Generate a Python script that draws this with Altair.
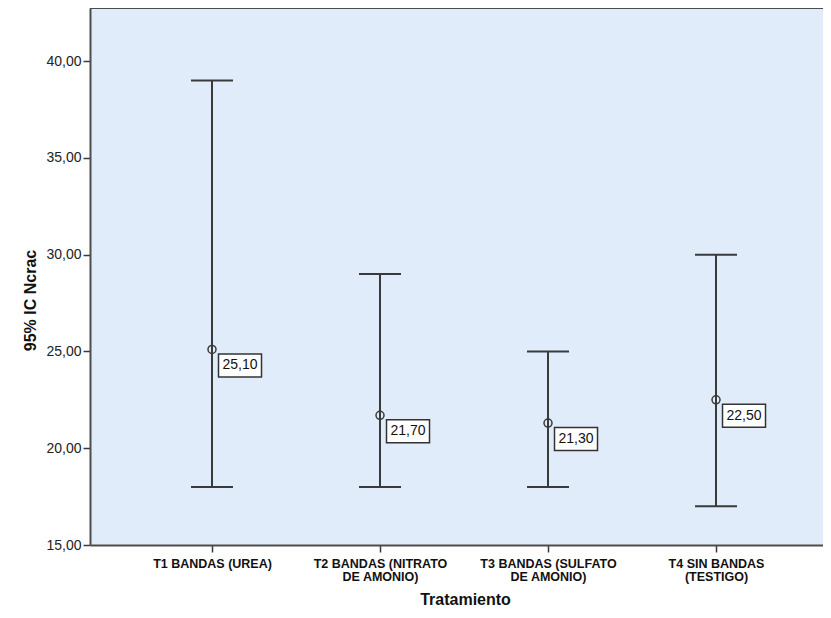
import altair as alt
import pandas as pd

categories = ["T1 BANDAS (UREA)", "T2 BANDAS (NITRATO\nDE AMONIO)",
              "T3 BANDAS (SULFATO\nDE AMONIO)", "T4 SIN BANDAS\n(TESTIGO)"]
means = [25.10, 21.70, 21.30, 22.50]
lower = [18.0, 18.0, 18.0, 17.0]
upper = [39.0, 29.0, 25.0, 30.0]
y_ticks = [15, 20, 25, 30, 35, 40]

df = pd.DataFrame({"cat": categories, "mean": means, "lo": lower, "hi": upper})

LINE = "#3a3a3a"
BOLDF = "Liberation Sans, Arial, sans-serif"
SANS = "Liberation Sans, Arial, sans-serif"
W, H = 733, 537

x_enc = alt.X(
    "cat:N", sort=categories,
    scale=alt.Scale(type="point", padding=0.6815, align=0.5328),
    axis=alt.Axis(
        title="Tratamiento", labelExpr="split(datum.label, '\\n')",
        labelAngle=0, labelFont=BOLDF, labelFontWeight="bold", labelFontSize=12.5,
        labelColor="#111", labelLineHeight=13, labelPadding=5, labelBaseline="top",
        tickSize=7, tickColor=LINE, tickWidth=1.5,
        domainColor="#4d4d4d", domainWidth=2,
        titleFont=BOLDF, titleFontSize=16, titleFontWeight="bold", titleColor="#111",
        titleX=375, titleY=54, titleBaseline="middle", titleAlign="center",
        grid=False,
    ),
)
y_scale = alt.Scale(domain=[15, 42.74], nice=False, zero=False)
y_axis = alt.Axis(
    title="95% IC Ncrac", values=y_ticks,
    labelExpr="replace(format(datum.value, '.2f'), '.', ',')",
    labelFont=SANS, labelFontSize=14, labelColor="#222", labelPadding=2,
    tickSize=7, tickColor=LINE, tickWidth=1.5,
    domainColor="#4d4d4d", domainWidth=2,
    titleFont=BOLDF, titleFontSize=16, titleFontWeight="bold", titleColor="#111",
    titleX=-60, titleY=292, titleBaseline="middle", titleAlign="center", titleAngle=-90,
    grid=False,
)

base = alt.Chart(df)

rule = base.mark_rule(color=LINE, strokeWidth=2).encode(
    x=x_enc, y=alt.Y("lo:Q", scale=y_scale, axis=y_axis), y2="hi:Q")
cap_hi = base.mark_tick(color=LINE, thickness=2, size=42, opacity=1, orient="horizontal").encode(
    x=alt.X("cat:N", sort=categories), y=alt.Y("hi:Q"))
cap_lo = base.mark_tick(color=LINE, thickness=2, size=42, opacity=1, orient="horizontal").encode(
    x=alt.X("cat:N", sort=categories), y=alt.Y("lo:Q"))
pt = base.mark_point(shape="circle", filled=False, size=64, strokeWidth=1.5,
                     color=LINE, opacity=1).encode(
    x=alt.X("cat:N", sort=categories), y=alt.Y("mean:Q"))
box = base.mark_rect(width=43, height=23, xOffset=28, yOffset=16, fill="white",
                     stroke="#333", strokeWidth=1.5).encode(
    x=alt.X("cat:N", sort=categories), y=alt.Y("mean:Q"))
txt = base.transform_calculate(
    lab="replace(format(datum.mean, '.2f'), '.', ',')"
).mark_text(dx=28, dy=16, font=SANS, fontSize=14, color="#111",
            align="center", baseline="middle").encode(
    x=alt.X("cat:N", sort=categories), y=alt.Y("mean:Q"), text="lab:N")
top = base.mark_rule(color="#4d4d4d", strokeWidth=2).encode(
    x=alt.value(0), x2=alt.value(W), y=alt.value(0))

chart = alt.layer(rule, cap_hi, cap_lo, pt, box, txt, top).properties(
    width=W, height=H,
    autosize=alt.AutoSizeParams(type="none"),
    padding={"left": 82, "top": 0, "right": 0, "bottom": 65},
    background="white",
).configure_view(fill="#E1ECFA", stroke=None)

chart.save("out.html", embed_options={"renderer": "svg", "actions": False})
